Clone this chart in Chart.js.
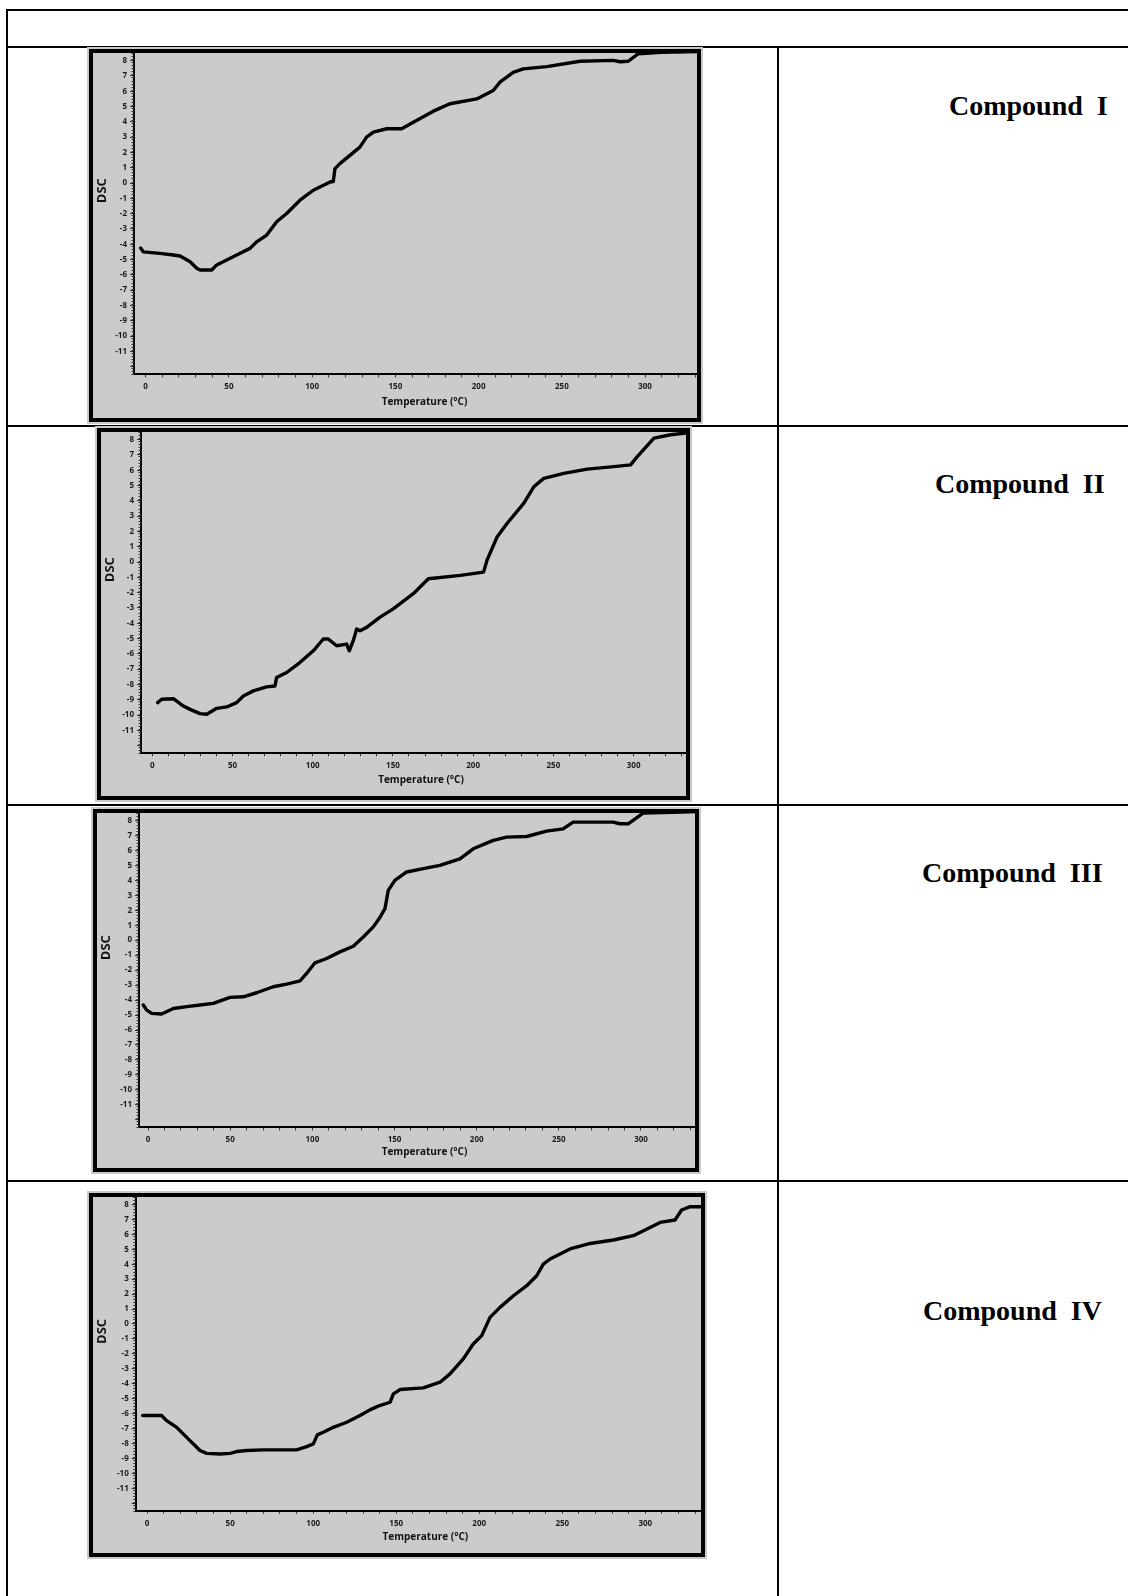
<!DOCTYPE html>
<html>
<head>
<meta charset="utf-8">
<script src="https://cdn.jsdelivr.net/npm/chart.js@4.4.1/dist/chart.umd.min.js"></script>
<style>
  html, body { margin: 0; padding: 0; background: #fff; }
  body { position: relative; width: 1128px; height: 1596px; overflow: hidden; }
  .rule { position: absolute; background: #000; }
  .frame { position: absolute; box-sizing: border-box; border: 4px solid #000; background: #cbcbcb; box-shadow: 0 0 0 2px #c9c9c9; overflow: hidden; }
  .frame canvas { display: block; }
  .name { position: absolute; font: bold 28px "Liberation Serif", "Times New Roman", serif; line-height: 28px; white-space: pre; color: #000; }
</style>
</head>
<body>
<script>
// DSC traces, temperature (°C) against DSC signal
const compound1Temp = [-3, -1.4, 8.6, 16.6, 20.7, 26.7, 30.7, 32.7, 39.7, 42.7, 48.7, 54.7, 62.7, 66.7, 72.7, 78.7, 84.7, 92.7, 100.7, 110.8, 112.7, 113.7, 116.7, 122.7, 128.7, 132.7, 136.8, 144.8, 153.8, 160.8, 172.8, 182.8, 198.9, 208.8, 212.8, 220.8, 226.8, 240.9, 260.9, 280.9, 284.9, 289.9, 295.9, 310, 333];
const compound1Dsc  = [-4.25, -4.5, -4.6, -4.7, -4.77, -5.14, -5.57, -5.68, -5.68, -5.35, -5.03, -4.7, -4.27, -3.84, -3.4, -2.53, -1.99, -1.12, -0.47, 0.07, 0.1, 0.94, 1.27, 1.81, 2.35, 3.0, 3.33, 3.55, 3.55, 3.98, 4.7, 5.18, 5.5, 6.05, 6.59, 7.24, 7.46, 7.61, 7.96, 8.02, 7.93, 7.96, 8.45, 8.55, 8.6];

const compound2Temp = [3.4, 5.9, 13.2, 19.4, 23.6, 29.8, 34, 40.2, 46.4, 52.6, 56.8, 63, 71.3, 76.5, 77.5, 83.8, 92, 100.4, 106.6, 109.7, 114.9, 121.2, 122.8, 125.3, 127.4, 129.5, 133.6, 142, 150.2, 162.7, 172.1, 192, 206.5, 208.6, 214.9, 221.1, 231.5, 237.8, 244, 256.5, 271.1, 287.7, 298.1, 302.3, 312.7, 323.1, 332.5];
const compound2Dsc  = [-9.19, -8.97, -8.93, -9.41, -9.63, -9.91, -9.95, -9.56, -9.47, -9.19, -8.75, -8.42, -8.16, -8.1, -7.55, -7.22, -6.57, -5.8, -5.03, -5.03, -5.47, -5.36, -5.8, -5.14, -4.37, -4.49, -4.27, -3.6, -3.06, -2.07, -1.09, -0.87, -0.66, 0.11, 1.64, 2.52, 3.83, 4.92, 5.47, 5.8, 6.07, 6.24, 6.35, 6.89, 8.1, 8.32, 8.43];

const compound3Temp = [-2.9, -0.8, 2.2, 8.3, 15.4, 23.5, 31.6, 39.7, 49.9, 58, 66.1, 76.2, 84.4, 92.5, 96.5, 101.6, 108.7, 116.8, 124.9, 131, 137.1, 141, 144.2, 146.2, 150.2, 157.4, 167.5, 177.6, 189.8, 197.9, 210.1, 218.2, 230.4, 242.5, 252.6, 258.7, 283, 287.1, 292.2, 301.3, 319.5, 334];
const compound3Dsc  = [-4.33, -4.67, -4.89, -4.93, -4.56, -4.44, -4.33, -4.22, -3.82, -3.78, -3.51, -3.11, -2.93, -2.71, -2.22, -1.51, -1.22, -0.78, -0.4, 0.22, 0.89, 1.5, 2.11, 3.33, 4.0, 4.56, 4.78, 5.0, 5.44, 6.11, 6.67, 6.89, 6.93, 7.29, 7.44, 7.89, 7.89, 7.78, 7.78, 8.49, 8.55, 8.6];

const compound4Temp = [-2.7, 8.7, 11.7, 17.8, 21.7, 25.8, 28.8, 31.8, 35.8, 43.9, 49.9, 53.9, 59.9, 69.9, 90, 96.1, 100.1, 102.5, 106.1, 112.1, 120.2, 128.2, 134.2, 140, 146.3, 148.3, 152.3, 166.3, 176.4, 182.4, 190.4, 196.4, 201.5, 206.5, 212.5, 220.6, 228.6, 234.6, 238.6, 242.7, 254.7, 266.8, 280.8, 292.8, 302.9, 308.9, 317.9, 321.9, 327, 334];
const compound4Dsc  = [-6.13, -6.13, -6.47, -6.92, -7.36, -7.81, -8.14, -8.47, -8.66, -8.7, -8.66, -8.54, -8.47, -8.43, -8.43, -8.21, -8.03, -7.42, -7.25, -6.92, -6.58, -6.13, -5.75, -5.46, -5.24, -4.68, -4.39, -4.28, -3.9, -3.34, -2.34, -1.34, -0.78, 0.44, 1.11, 1.89, 2.56, 3.23, 4.01, 4.35, 5.02, 5.39, 5.62, 5.91, 6.46, 6.8, 6.96, 7.63, 7.85, 7.85];

const compoundNames = ['Compound  I', 'Compound  II', 'Compound  III', 'Compound  IV'];
const xAxisTitle = 'Temperature (°C)';
const yAxisTitle = 'DSC';
const dscRange = [-12.5, 8.5];      // y-axis span
const dscTickValues = [-12, -11, -10, -9, -8, -7, -6, -5, -4, -3, -2, -1, 0, 1, 2, 3, 4, 5, 6, 7, 8];
const dscLabelFloor = -11;           // lowest labelled DSC tick
const tempTickValues = [0, 10, 20, 30, 40, 50, 60, 70, 80, 90, 100, 110, 120, 130, 140, 150, 160, 170, 180, 190, 200, 210, 220, 230, 240, 250, 260, 270, 280, 290, 300, 310, 320, 330, 340];
const tempLabelStep = 50;            // labelled temperature ticks
const tempMax = 342;                 // right end of the temperature axis (frame crops the last part)

// table rules of the page
const rules = [
  [6, 9, 1122, 2], [6, 9, 2, 1587],           // outer top / left
  [6, 46, 1122, 2],                            // header row
  [6, 425, 1122, 2], [6, 804, 1122, 2], [6, 1180, 1122, 2],
  [777, 46, 2, 1550]                           // column divider
];
rules.forEach(([x, y, w, h]) => {
  const d = document.createElement('div');
  d.className = 'rule';
  Object.assign(d.style, { left: x + 'px', top: y + 'px', width: w + 'px', height: h + 'px' });
  document.body.appendChild(d);
});

// layout of each plot frame: [left, top, width, height], axis pixel positions,
// temperature start and pixels per degree
const layouts = [
  { box: [89, 49, 612, 373],  axisX: 134,   axisY: 374.3,  tMin: -7.0, pxPerDeg: 1.665, name: [949, 92] },
  { box: [97, 428, 593, 372], axisX: 141,   axisY: 753.3,  tMin: -7.0, pxPerDeg: 1.605, name: [935, 470] },
  { box: [93, 809, 606, 363], axisX: 139,   axisY: 1127.3, tMin: -5.5, pxPerDeg: 1.644, name: [922, 859] },
  { box: [89, 1193, 616, 364], axisX: 135.7, axisY: 1510.7, tMin: -6.9, pxPerDeg: 1.66, name: [923, 1297] }
];
const series = [
  [compound1Temp, compound1Dsc],
  [compound2Temp, compound2Dsc],
  [compound3Temp, compound3Dsc],
  [compound4Temp, compound4Dsc]
];

// small ruler marks along the DSC axis and the vertical DSC caption
const axisDecor = {
  id: 'axisDecor',
  afterDraw(chart) {
    const { ctx, chartArea } = chart;
    const y = chart.scales.y;
    ctx.save();
    ctx.strokeStyle = '#333';
    ctx.lineWidth = 1;
    ctx.beginPath();
    for (let v = dscRange[0]; v <= dscRange[1] + 1e-6; v += 0.2) {
      const py = Math.round(y.getPixelForValue(v)) + 0.5;
      ctx.moveTo(chartArea.left - 2.5, py);
      ctx.lineTo(chartArea.left, py);
    }
    ctx.stroke();
    ctx.translate(9, y.getPixelForValue(-0.5));
    ctx.rotate(-Math.PI / 2);
    ctx.fillStyle = '#111';
    ctx.font = 'bold 13px "Open Sans", "DejaVu Sans", sans-serif';
    ctx.textAlign = 'center';
    ctx.textBaseline = 'middle';
    ctx.fillText(yAxisTitle, 0, 0);
    ctx.restore();
  }
};

const tickFont = { family: '"Open Sans", "DejaVu Sans", sans-serif', size: 8, weight: 'bold' };

layouts.forEach((L, i) => {
  const [left, top, w, h] = L.box;
  const frame = document.createElement('div');
  frame.className = 'frame';
  Object.assign(frame.style, { left: left + 'px', top: top + 'px', width: w + 'px', height: h + 'px' });
  // the plot runs on past the frame's right edge, where the frame crops it
  const plotRight = L.axisX + (tempMax - L.tMin) * L.pxPerDeg;
  const cw = Math.round(plotRight - (left + 4)), ch = h - 8;
  const canvas = document.createElement('canvas');
  canvas.width = cw; canvas.height = ch;
  canvas.style.width = cw + 'px'; canvas.style.height = ch + 'px';
  frame.appendChild(canvas);
  document.body.appendChild(frame);

  const name = document.createElement('div');
  name.className = 'name';
  name.textContent = compoundNames[i];
  Object.assign(name.style, { left: L.name[0] + 'px', top: L.name[1] + 'px' });
  document.body.appendChild(name);

  const yWidth = L.axisX - (left + 4);
  const xHeight = (top + h - 4) - L.axisY;
  const [temps, dscs] = series[i];

  new Chart(canvas, {
    type: 'line',
    data: {
      datasets: [{
        data: temps.map((t, k) => ({ x: t, y: dscs[k] })),
        borderColor: '#050000',
        borderWidth: 3.4,
        pointRadius: 0,
        tension: 0,
        borderJoinStyle: 'round',
        borderCapStyle: 'round',
        fill: false
      }]
    },
    options: {
      responsive: false,
      devicePixelRatio: 1,
      animation: false,
      events: [],
      layout: { padding: 0 },
      plugins: { legend: { display: false }, tooltip: { enabled: false } },
      scales: {
        x: {
          type: 'linear',
          min: L.tMin, max: tempMax,
          grid: { drawOnChartArea: false, drawTicks: true, tickLength: 3, tickColor: '#333', tickWidth: 1 },
          border: { display: true, color: '#000', width: 2 },
          ticks: {
            autoSkip: false, maxRotation: 0,
            padding: 5, color: '#1a1a1a', font: tickFont,
            callback: v => (v % tempLabelStep === 0 ? String(v) : '')
          },
          afterBuildTicks: s => { s.ticks = tempTickValues.map(v => ({ value: v })); },
          title: {
            display: true, text: xAxisTitle, color: '#111',
            font: { family: '"Open Sans", "DejaVu Sans", sans-serif', size: 10, weight: 'bold' },
            padding: { top: 0, bottom: 10 }
          },
          afterFit: s => { s.height = xHeight; s.paddingLeft = 0; s.paddingRight = 0; }
        },
        y: {
          type: 'linear',
          min: dscRange[0], max: dscRange[1],
          grid: { drawOnChartArea: false, drawTicks: true, tickLength: 4, tickColor: '#333', tickWidth: 1 },
          border: { display: true, color: '#000', width: 2 },
          ticks: {
            autoSkip: false,
            padding: 3, color: '#1a1a1a', font: tickFont,
            callback: v => (v >= dscLabelFloor ? String(v) : '')
          },
          afterBuildTicks: s => { s.ticks = dscTickValues.map(v => ({ value: v })); },
          afterFit: s => { s.width = yWidth; s.paddingTop = 0; s.paddingBottom = 0; }
        }
      }
    },
    plugins: [axisDecor]
  });
});
</script>
</body>
</html>
